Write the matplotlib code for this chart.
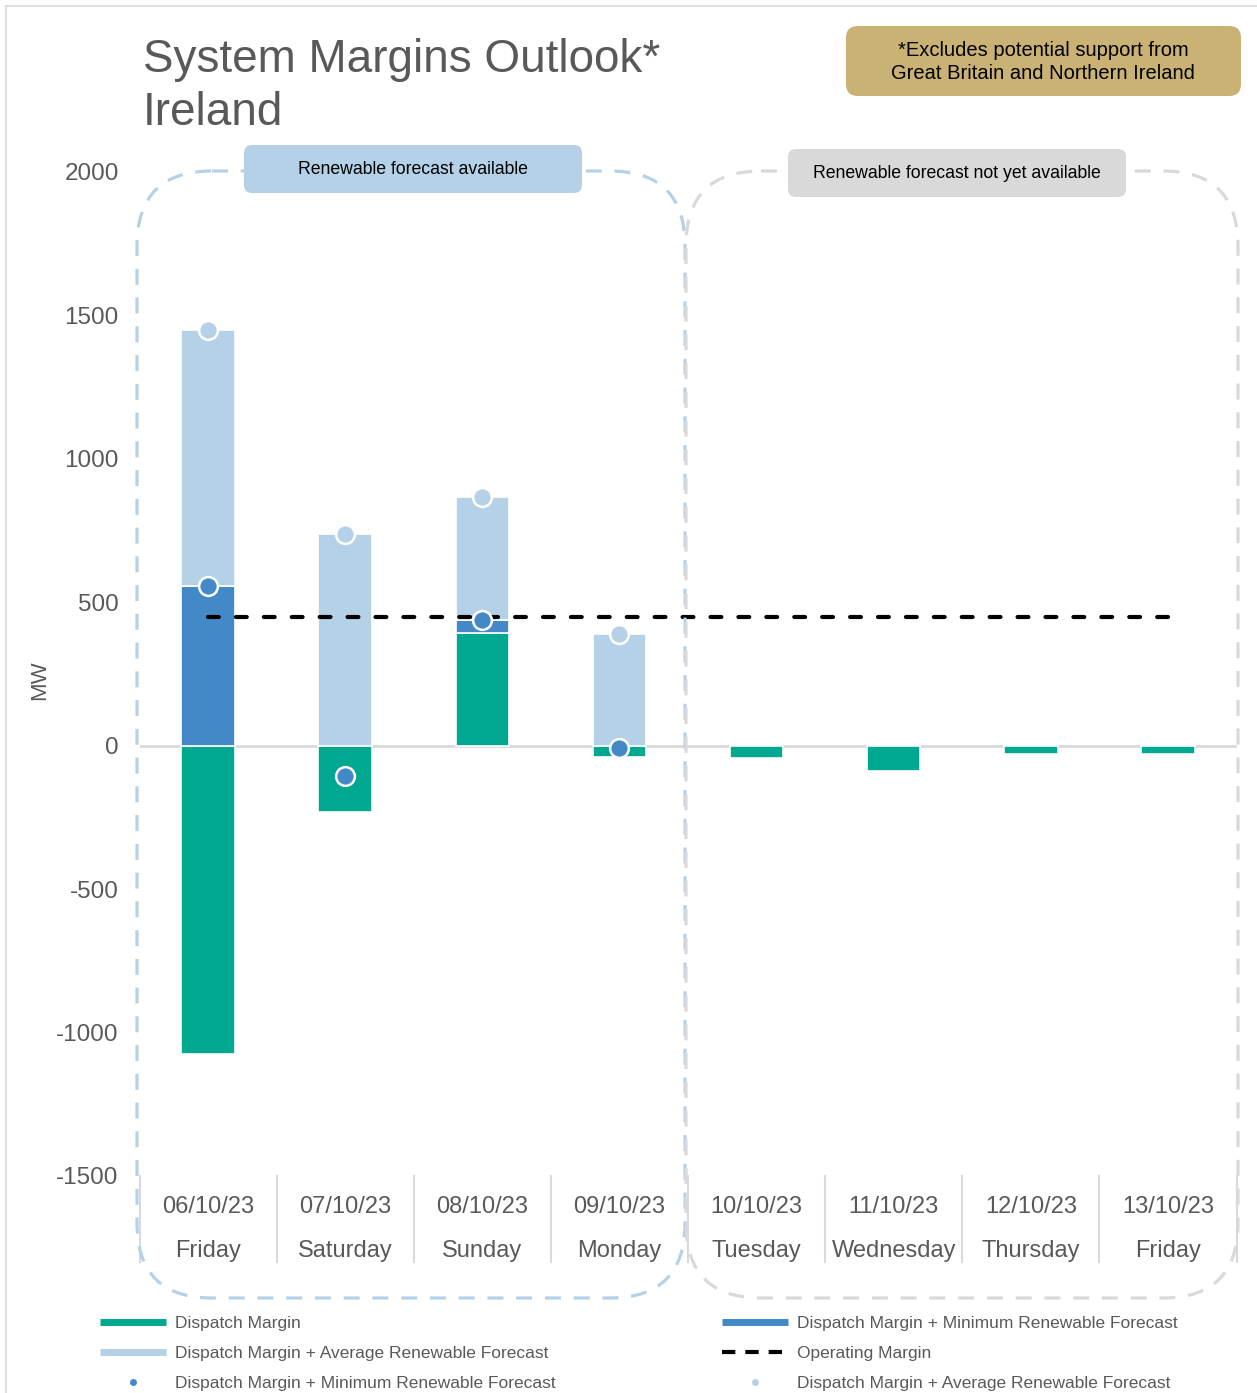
import matplotlib
matplotlib.use("Agg")
import matplotlib.pyplot as plt
import matplotlib.transforms as mtransforms
from matplotlib.patches import FancyBboxPatch
from matplotlib.lines import Line2D

plt.rcParams['font.family'] = ['Liberation Sans', 'DejaVu Sans']

# data
dates = ["06/10/23", "07/10/23", "08/10/23", "09/10/23",
         "10/10/23", "11/10/23", "12/10/23", "13/10/23"]
days = ["Friday", "Saturday", "Sunday", "Monday",
        "Tuesday", "Wednesday", "Thursday", "Friday"]
dispatch_margin = [-1073, -231, 392, -38, -42, -87, -28, -28]
dm_min_renew = [556, -105, 437, -7]      # only first 4 days have a renewable forecast
dm_avg_renew = [1450, 738, 867, 388]
operating_margin = [450, 450, 450, 450, 450, 450, 450, 450]
yticks = [-1500, -1000, -500, 0, 500, 1000, 1500, 2000]

GREEN = "#00a88f"
BLUE = "#4389c8"
LIGHT = "#b4d1e8"
GREY = "#d9d9d9"
GOLD = "#c9b274"
TXT = "#595959"

W, H = 1257, 1393
fig = plt.figure(figsize=(W / 100, H / 100), dpi=100)
# helper transform: image pixels (origin top-left)
px = mtransforms.Affine2D().scale(1 / W, -1 / H).translate(0, 1) + fig.transFigure

ax = fig.add_axes([139.5 / W, 1 - 1176 / H, 1097 / W, 1004 / H])
ax.patch.set_visible(False)
x = list(range(len(dates)))
bw = 0.39

ax.bar(x, dispatch_margin, width=bw, color=GREEN, edgecolor="white", linewidth=1.2, zorder=2)
for i in range(len(dm_min_renew)):
    base = max(dispatch_margin[i], 0)
    if dm_min_renew[i] > base:
        ax.bar(i, dm_min_renew[i] - base, bottom=base, width=bw, color=BLUE,
               edgecolor="white", linewidth=1.2, zorder=2)
    b2 = max(dm_min_renew[i], 0)
    ax.bar(i, dm_avg_renew[i] - b2, bottom=b2, width=bw, color=LIGHT,
           edgecolor="white", linewidth=1.2, zorder=2)

ax.axhline(0, color=GREY, lw=2, zorder=1)
ax.plot(x, operating_margin, color="black", lw=3, dashes=(2.6, 4.1),
        dash_capstyle="round", zorder=4)
ax.plot(range(len(dm_avg_renew)), dm_avg_renew, "o", ms=13.5, color=LIGHT,
        mec="white", mew=1.8, zorder=5)
ax.plot(range(len(dm_min_renew)), dm_min_renew, "o", ms=13.5, color=BLUE,
        mec="white", mew=1.8, zorder=5)

ax.set_xlim(-0.5, len(dates) - 0.5)
ax.set_ylim(-1500, 2000)
ax.set_yticks(yticks)
ax.set_yticklabels([str(v) for v in yticks])
ax.set_xticks([])
ax.tick_params(axis="y", length=0, pad=15, labelsize=17.5, labelcolor=TXT)
for s in ax.spines.values():
    s.set_visible(False)

# category labels and separators
xt = mtransforms.blended_transform_factory(ax.transData, px)
for i in x:
    ax.text(i, 1207, dates[i], transform=xt, ha="center", va="center",
            fontsize=17, color=TXT, clip_on=False)
    ax.text(i, 1251, days[i], transform=xt, ha="center", va="center",
            fontsize=17, color=TXT, clip_on=False)
for b in [i - 0.5 for i in range(len(dates) + 1)]:
    ax.plot([b, b], [1176, 1262], transform=xt, color=GREY, lw=1.5, clip_on=False)

fig.text(40, 680, "MW", transform=px, rotation=90, ha="center", va="center",
         fontsize=16, color=TXT)

# title and note
fig.text(143, 72, "System Margins Outlook*", transform=px, ha="left", va="baseline",
         fontsize=33, color=TXT)
fig.text(143, 125, "Ireland", transform=px, ha="left", va="baseline",
         fontsize=33, color=TXT)
fig.add_artist(FancyBboxPatch((846, 26), 395, 70, boxstyle="round,pad=0,rounding_size=12",
                              transform=px, facecolor=GOLD, edgecolor="none", zorder=3))
fig.text(1043, 62, "*Excludes potential support from\nGreat Britain and Northern Ireland",
         transform=px, ha="center", va="center", fontsize=14.5, color="black",
         linespacing=1.3, zorder=4)

# dashed group outlines
fig.add_artist(FancyBboxPatch((137, 171), 548, 1127, boxstyle="round,pad=0,rounding_size=75",
                              transform=px, facecolor="none", edgecolor=LIGHT, lw=2.3,
                              linestyle=(0, (5, 4)), zorder=1))
fig.add_artist(FancyBboxPatch((686, 171), 552, 1127, boxstyle="round,pad=0,rounding_size=75",
                              transform=px, facecolor="none", edgecolor=GREY, lw=2.3,
                              linestyle=(0, (5, 4)), zorder=1))
fig.add_artist(FancyBboxPatch((244, 145), 338, 48, boxstyle="round,pad=0,rounding_size=8",
                              transform=px, facecolor=LIGHT, edgecolor="none", zorder=3))
fig.text(413, 169, "Renewable forecast available", transform=px, ha="center", va="center",
         fontsize=12.7, color="black", zorder=4)
fig.add_artist(FancyBboxPatch((788, 149), 338, 48, boxstyle="round,pad=0,rounding_size=8",
                              transform=px, facecolor=GREY, edgecolor="none", zorder=3))
fig.text(957, 173, "Renewable forecast not yet available", transform=px, ha="center",
         va="center", fontsize=12.7, color="black", zorder=4)

# outer frame
fig.add_artist(Line2D([6, 6], [6, H], transform=px, color=GREY, lw=1.2))
fig.add_artist(Line2D([6, W], [6, 6], transform=px, color=GREY, lw=1.2))

# legend
left_handles = [
    Line2D([], [], color=GREEN, lw=5, solid_capstyle="butt", label="Dispatch Margin"),
    Line2D([], [], color=LIGHT, lw=5, solid_capstyle="butt",
           label="Dispatch Margin + Average Renewable Forecast"),
    Line2D([], [], color=BLUE, marker="o", ms=4, ls="none",
           label="Dispatch Margin + Minimum Renewable Forecast"),
]
right_handles = [
    Line2D([], [], color=BLUE, lw=5, solid_capstyle="butt",
           label="Dispatch Margin + Minimum Renewable Forecast"),
    Line2D([], [], color="black", lw=3, dashes=(3.2, 2.4), label="Operating Margin"),
    Line2D([], [], color=LIGHT, marker="o", ms=4, ls="none",
           label="Dispatch Margin + Average Renewable Forecast"),
]
for hs, x0 in [(left_handles, 100), (right_handles, 722)]:
    leg = fig.legend(handles=hs, loc="upper left", bbox_to_anchor=(x0, 1316),
                     bbox_transform=px, frameon=False, fontsize=12.5,
                     handlelength=3.8, handletextpad=0.5, labelspacing=0.86,
                     borderpad=0, borderaxespad=0)
    for t in leg.get_texts():
        t.set_color(TXT)

fig.savefig("out.png", dpi=100)
